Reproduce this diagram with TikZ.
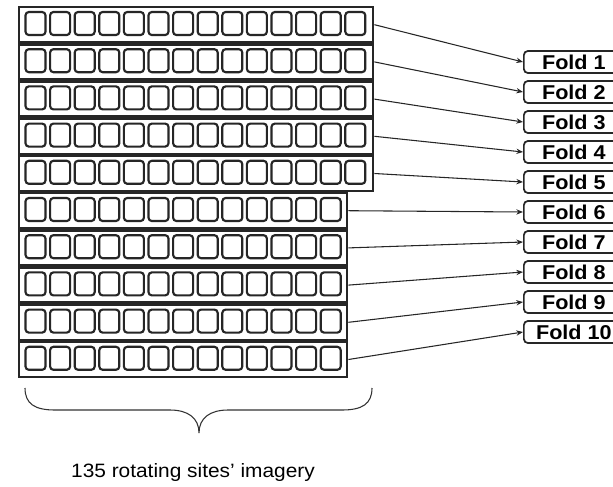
\documentclass[tikz,border=0pt]{standalone}
\usepackage{fontspec}
\setmainfont{Liberation Sans}
\newfontfamily\stsans[FakeStretch=1.08]{Liberation Sans}
\usetikzlibrary{arrows.meta}
\begin{document}
\begin{tikzpicture}[x=0.75pt,y=-0.75pt,
  rowbox/.style={draw=black!85,line width=1.8pt,fill=white,rectangle,inner sep=0pt,minimum height={35*0.75pt},anchor=north west},
  cell/.style={draw=black!85,line width=1.6pt,rounded corners=2.5pt,inner sep=0pt,minimum width={20*0.75pt},minimum height={23*0.75pt}},
  fold/.style={draw=black!85,line width=1.3pt,rounded corners=3pt,inner sep=0pt,minimum width={100*0.75pt},minimum height={22*0.75pt},font=\stsans\bfseries\fontsize{15}{16}\selectfont},
  link/.style={draw=black!85,line width=0.8pt,-{Stealth[length=5pt,width=4pt]}},
  brace/.style={draw=black!80,line width=0.8pt},
  caption/.style={font=\stsans\fontsize{14.5}{17}\selectfont}]
\useasboundingbox (0,0) rectangle (613,486);
\foreach \i in {1,...,10}{
  \pgfmathsetmacro\rt{6+37.2*(\i-1)}
  \pgfmathtruncatemacro\nc{\i<=5 ? 14 : 13}
  \pgfmathsetmacro\rw{\i<=5 ? 354 : 328}
  \node[rowbox,minimum width={\rw*0.75pt}] (r\i) at (18,\rt) {};
  \foreach \k in {1,...,\nc}{
    \node[cell] (c\i-\k) at ({35.5+24.6*(\k-1)},{\rt+17.5}) {};
  }
  \pgfmathsetmacro\fy{62+30*(\i-1)}
  \node[fold,anchor=west] (f\i) at (523,\fy) {Fold \i};
  \draw[link] (r\i.east) -- (f\i.west);
}
\coordinate (bl) at (25,388);
\coordinate (bt) at (199,433);
\coordinate (br) at (372,388);
\draw[brace] (bl) .. controls (25,404) and (35,410) .. (55,410) -- (170,410)
  .. controls (188,410) and (199,418) .. (bt)
  .. controls (199,418) and (210,410) .. (228,410) -- (342,410)
  .. controls (362,410) and (372,404) .. (br);
\node[caption] (cap) at (193,472) {135 rotating sites’ imagery};
\end{tikzpicture}
\end{document}
